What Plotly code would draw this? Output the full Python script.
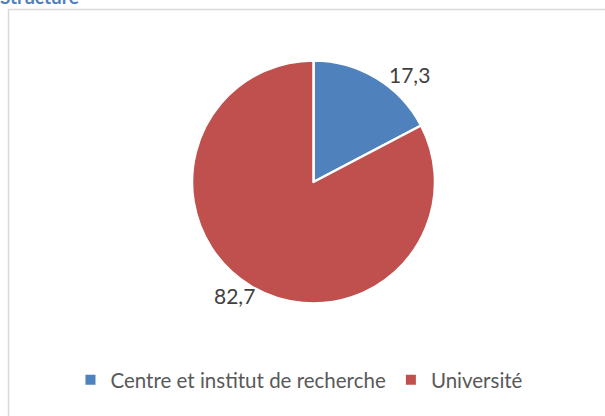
import math
import plotly.graph_objects as go

# Share of publications by structure type
categories = ["Centre et institut de recherche", "Université"]
values = [17.3, 82.7]
colors = ["#4F81BD", "#C0504D"]

W, H = 605, 416
# pie placement in pixels
cx, cy, r = 313.5, 182.0, 121.5

dom_x = [(cx - r) / W, (cx + r) / W]
dom_y = [1 - (cy + r) / H, 1 - (cy - r) / H]

fig = go.Figure(go.Pie(
    labels=categories,
    values=values,
    sort=False,
    direction="clockwise",
    rotation=0,
    marker=dict(colors=colors, line=dict(color="white", width=2.5)),
    textinfo="none",
    hoverinfo="label+value",
    domain=dict(x=dom_x, y=dom_y),
))

# value labels placed just outside each slice, near its mid-angle
total = sum(values)
cum = 0.0
label_dist = [1.03, 1.095]
label_dx = [31, -10]
annotations = []
for v, d, ox in zip(values, label_dist, label_dx):
    mid = (cum + v / 2) / total * 2 * math.pi
    cum += v
    lx = cx + d * r * math.sin(mid) + ox
    ly = cy - d * r * math.cos(mid)
    annotations.append(dict(
        x=lx / W, y=1 - ly / H, xref="paper", yref="paper",
        text=f"{v:.1f}".replace(".", ","), showarrow=False,
        font=dict(family="Lato, Carlito, sans-serif", size=21, color="#404040"),
        xanchor="center", yanchor="middle",
    ))

# section heading above the chart frame
annotations.append(dict(
    x=0, y=1, xref="paper", yref="paper", text="<b>Structure</b>",
    showarrow=False, xanchor="left", yanchor="bottom", yshift=-10, xshift=-2,
    font=dict(family="Lato, Carlito, sans-serif", size=19, color="#4F81BD"),
))

fig.update_layout(
    width=W, height=H,
    margin=dict(l=0, r=0, t=0, b=0),
    paper_bgcolor="white",
    plot_bgcolor="white",
    showlegend=True,
    legend=dict(
        orientation="h", x=0.495, xanchor="center", y=1 - 380 / H, yanchor="middle",
        font=dict(family="Lato, Carlito, sans-serif", size=20.5, color="#595959"),
        itemsizing="constant", traceorder="normal",
    ),
    annotations=annotations,
    shapes=[dict(
        type="rect", xref="paper", yref="paper",
        x0=8.5 / W, x1=1.05, y0=-0.05, y1=1 - 9.5 / H,
        line=dict(color="#D9D9D9", width=1.5), fillcolor="rgba(0,0,0,0)", layer="below",
    )],
)

fig.write_html("out.html")
